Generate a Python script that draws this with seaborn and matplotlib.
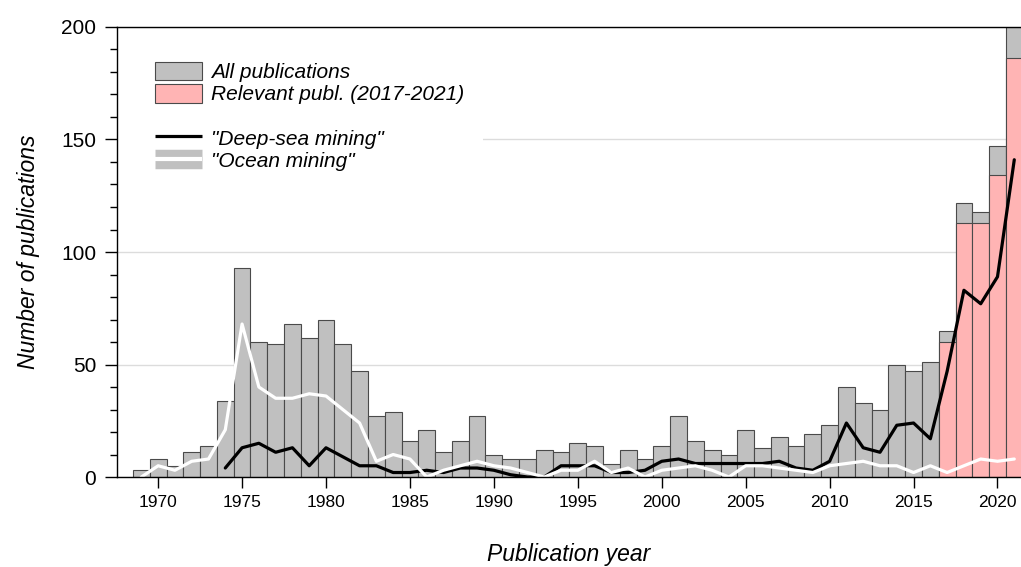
import numpy as np
import matplotlib
matplotlib.use('Agg')
import matplotlib.pyplot as plt
import matplotlib.patheffects as pe
from matplotlib.patches import Patch, Rectangle
from matplotlib.lines import Line2D
import seaborn as sns

# ---------------- dados ----------------
anos = list(range(1969, 2022))
todas_publ = [3, 8, 5, 11, 14, 34, 93, 60, 59, 68, 62, 70, 59, 47, 27,
              29, 16, 21, 11, 16, 27, 10, 8, 8, 12, 11, 15, 14, 6, 12,
              8, 14, 27, 16, 12, 10, 21, 13, 18, 14, 19, 23, 40, 33, 30,
              50, 47, 51, 65, 122, 118, 147, 200]

anos_relev = [2017, 2018, 2019, 2020, 2021]
relevantes = [60, 113, 113, 134, 186]

anos_dsm = list(range(1974, 2022))
deep_sea = [4, 13, 15, 11, 13, 5, 13, 9, 5, 5, 2, 2, 3, 2, 4, 4, 3, 1, 0, 0,
            5, 5, 5, 2, 2, 3, 7, 8, 6, 6, 6, 6, 6, 7, 4, 3, 7, 24, 13, 11,
            23, 24, 17, 47, 83, 77, 89, 141]

anos_om = list(range(1969, 2022))
ocean = [0, 5, 3, 7, 8, 21, 68, 40, 35, 35, 37, 36, 30, 24, 7, 10, 8, 0, 3,
         5, 7, 5, 4, 2, 0, 3, 3, 7, 2, 4, 0, 3, 4, 5, 3, 0, 5, 5, 4, 3, 2,
         5, 6, 7, 5, 5, 2, 5, 2, 5, 8, 7, 8]

cinza = '#c0c0c0'
rosa = '#ffb4b4'
borda = '#4a4a4a'

sns.set_style('white')
plt.rcParams['font.family'] = ['Liberation Sans', 'DejaVu Sans']
plt.rcParams['text.color'] = 'black'
plt.rcParams['axes.labelcolor'] = 'black'
plt.rcParams['xtick.color'] = 'black'
plt.rcParams['ytick.color'] = 'black'

fig = plt.figure(figsize=(10.21, 5.67), dpi=100, facecolor='white')
ax = fig.add_axes([0.1146, 0.1587, 0.8854, 0.7937])

# 🔹 barras
sns.barplot(x=anos, y=todas_publ, native_scale=True, width=1, color=cinza,
            saturation=1, edgecolor=borda, linewidth=0.8, errorbar=None, ax=ax)
sns.barplot(x=anos_relev, y=relevantes, native_scale=True, width=1, color=rosa,
            saturation=1, edgecolor=borda, linewidth=0.8, errorbar=None, ax=ax)

# 🔹 linhas
sns.lineplot(x=anos_dsm, y=deep_sea, color='black', linewidth=2.3, ax=ax)
sns.lineplot(x=anos_om, y=ocean, color='white', linewidth=2.3, ax=ax)

ax.set_xlim(1967.55, 2021.4)
ax.set_ylim(0, 200)
ax.set_xticks(range(1970, 2021, 5))
ax.set_xticklabels([str(a) for a in range(1970, 2021, 5)])
ax.set_yticks([0, 50, 100, 150, 200])
ax.set_yticks(range(0, 201, 10), minor=True)
ax.yaxis.grid(True, color='#dcdcdc', linewidth=1)
ax.set_axisbelow(True)

for s in ['left', 'bottom', 'top']:
    ax.spines[s].set_color('black')
    ax.spines[s].set_linewidth(1)
ax.spines['right'].set_visible(False)

ax.tick_params(axis='y', which='major', length=9, width=1, direction='out',
               labelsize=15, pad=6, left=True)
ax.tick_params(axis='y', which='minor', length=5, width=1, direction='out', left=True)
ax.tick_params(axis='x', which='major', length=8, width=1, direction='out',
               labelsize=12.5, pad=5, bottom=True)

ax.set_xlabel('Publication year', fontsize=16.5, style='italic', labelpad=24)
ax.set_ylabel('Number of publications', fontsize=16.5, style='italic', labelpad=15)

# 🔹 fundo branco da legenda (esconde a grade de 150)
ax.add_patch(Rectangle((0, 0.64), 0.405, 0.33, transform=ax.transAxes,
                       facecolor='white', edgecolor='none', zorder=0.8))

# 🔹 legenda
handles = [
    Patch(facecolor=cinza, edgecolor=borda, linewidth=0.8),
    Patch(facecolor=rosa, edgecolor=borda, linewidth=0.8),
    Line2D([], [], color='none'),
    Line2D([], [], color='black', linewidth=2.3, solid_capstyle='butt'),
    Line2D([], [], color='white', linewidth=3, solid_capstyle='butt',
           path_effects=[pe.Stroke(linewidth=14, foreground=cinza, capstyle='butt'),
                         pe.Normal()]),
]
labels = ['All publications', 'Relevant publ. (2017-2021)', ' ',
          '"Deep-sea mining"', '"Ocean mining"']
leg = ax.legend(handles, labels, loc='upper left', bbox_to_anchor=(0.0, 1.006),
                prop={'style': 'italic', 'size': 15}, frameon=False,
                handlelength=2.3, handleheight=1.0, handletextpad=0.42,
                labelspacing=0.08, borderpad=1.3)

plt.savefig('out.png', dpi=100, facecolor='white')
